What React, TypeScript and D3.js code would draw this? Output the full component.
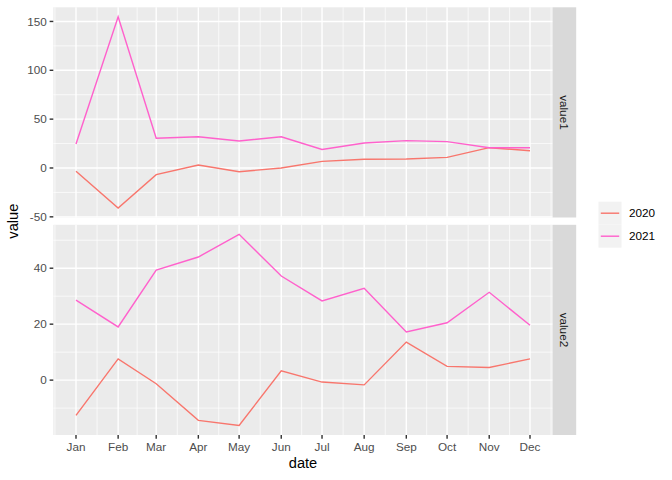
import React from "react";
import * as d3 from "d3";

const months = ["Jan", "Feb", "Mar", "Apr", "May", "Jun", "Jul", "Aug", "Sep", "Oct", "Nov", "Dec"];
const years = ["2020", "2021"];
const colors = ["#F8766D", "#FF61CC"];
const facets = ["value1", "value2"];

const value1_2020 = [-3.4, -40.9, -6.8, 3.0, -3.8, 0.0, 6.8, 8.9, 9.2, 10.9, 20.8, 17.7];
const value1_2021 = [24.5, 154.7, 30.4, 32.0, 27.6, 32.0, 19.0, 25.5, 28.0, 27.0, 20.8, 20.8];
const value2_2020 = [-12.6, 7.6, -1.3, -14.4, -16.2, 3.3, -0.7, -1.7, 13.6, 4.9, 4.5, 7.6];
const value2_2021 = [28.6, 19.0, 39.3, 44.0, 52.1, 37.2, 28.3, 32.8, 17.2, 20.5, 31.4, 19.6];

const value1Ticks = [-50, 0, 50, 100, 150];
const value1Minor = [-25, 25, 75, 125];
const value2Ticks = [0, 20, 40];
const value2Minor = [-10, 10, 30, 50];

const seriesByFacet = [
  [value1_2020, value1_2021],
  [value2_2020, value2_2021],
];
const ticksByFacet = [value1Ticks, value2Ticks];
const minorByFacet = [value1Minor, value2Minor];

const dates = months.map((_, i) => new Date(Date.UTC(2021, i, 1)));

const FONT = "'Liberation Sans', Arial, Helvetica, sans-serif";
const W = 672;
const H = 480;
const panelL = 53.3;
const panelR = 552.7;
const stripW = 23.5;
const panels = [
  { top: 7.3, bottom: 217.5 },
  { top: 224.8, bottom: 435 },
];

export default function App() {
  const t0 = dates[0].getTime();
  const t1 = dates[dates.length - 1].getTime();
  const pad = (t1 - t0) * 0.05;
  const x = d3.scaleUtc().domain([new Date(t0 - pad), new Date(t1 + pad)]).range([panelL, panelR]);

  // minor breaks: midpoints between month starts, including outer ones
  const extMonths = [new Date(Date.UTC(2020, 11, 1)), ...dates, new Date(Date.UTC(2022, 0, 1))];
  const minorX: Date[] = [];
  for (let i = 0; i < extMonths.length - 1; i++) {
    const m = (extMonths[i].getTime() + extMonths[i + 1].getTime()) / 2;
    if (m > t0 - pad && m < t1 + pad) minorX.push(new Date(m));
  }

  const yScales = seriesByFacet.map((ser, fi) => {
    const all = ser.flat();
    const mn = d3.min(all)!;
    const mx = d3.max(all)!;
    const e = (mx - mn) * 0.05;
    return d3.scaleLinear().domain([mn - e, mx + e]).range([panels[fi].bottom, panels[fi].top]);
  });

  return (
    <svg width={W} height={H} style={{ display: "block", position: "absolute", left: 0, top: 0 }} fontFamily={FONT}>
      <rect x={0} y={0} width={W} height={H} fill="#FFFFFF" />
      {facets.map((f, fi) => {
        const y = yScales[fi];
        const p = panels[fi];
        const line = d3
          .line<number>()
          .x((_, i) => x(dates[i]))
          .y((v) => y(v));
        return (
          <g key={f}>
            <rect x={panelL} y={p.top} width={panelR - panelL} height={p.bottom - p.top} fill="#EBEBEB" />
            {minorByFacet[fi].map((v) => (
              <line key={"hm" + v} x1={panelL} x2={panelR} y1={y(v)} y2={y(v)} stroke="#FFFFFF" strokeWidth={0.71} />
            ))}
            {minorX.map((d, i) => (
              <line key={"vm" + i} x1={x(d)} x2={x(d)} y1={p.top} y2={p.bottom} stroke="#FFFFFF" strokeWidth={0.71} />
            ))}
            {ticksByFacet[fi].map((v) => (
              <line key={"hM" + v} x1={panelL} x2={panelR} y1={y(v)} y2={y(v)} stroke="#FFFFFF" strokeWidth={1.42} />
            ))}
            {dates.map((d, i) => (
              <line key={"vM" + i} x1={x(d)} x2={x(d)} y1={p.top} y2={p.bottom} stroke="#FFFFFF" strokeWidth={1.42} />
            ))}
            {seriesByFacet[fi].map((s, si) => (
              <path key={"s" + si} d={line(s) || ""} fill="none" stroke={colors[si]} strokeWidth={1.42} />
            ))}
            {/* y axis */}
            {ticksByFacet[fi].map((v) => (
              <g key={"yt" + v}>
                <line x1={panelL - 3.67} x2={panelL} y1={y(v)} y2={y(v)} stroke="#333333" strokeWidth={1.42} />
                <text x={panelL - 3.67 - 2.93} y={y(v) + 4.2} textAnchor="end" fontSize={11.73} fill="#4D4D4D">
                  {v}
                </text>
              </g>
            ))}
            {/* strip */}
            <rect x={panelR} y={p.top} width={stripW} height={p.bottom - p.top} fill="#D9D9D9" />
            <text
              transform={`translate(${panelR + stripW / 2},${(p.top + p.bottom) / 2}) rotate(90)`}
              textAnchor="middle"
              dominantBaseline="central"
              fontSize={11.73}
              fill="#1A1A1A"
            >
              {f}
            </text>
          </g>
        );
      })}
      {/* x axis */}
      {dates.map((d, i) => (
        <g key={"xt" + i}>
          <line x1={x(d)} x2={x(d)} y1={435} y2={435 + 3.67} stroke="#333333" strokeWidth={1.42} />
          <text x={x(d)} y={450.9} textAnchor="middle" fontSize={11.73} fill="#4D4D4D">
            {months[i]}
          </text>
        </g>
      ))}
      <text x={(panelL + panelR) / 2} y={468} textAnchor="middle" fontSize={14.67} fill="#000000">
        date
      </text>
      <text transform={`translate(17.5,${(7.3 + 435) / 2}) rotate(-90)`} textAnchor="middle" fontSize={14.67} fill="#000000">
        value
      </text>
      {/* legend */}
      {years.map((yr, i) => {
        const ky = 201.7 + i * 23;
        return (
          <g key={yr}>
            <rect x={598.5} y={ky} width={23} height={23} fill="#F2F2F2" />
            <line x1={600.8} x2={619.2} y1={ky + 11.5} y2={ky + 11.5} stroke={colors[i]} strokeWidth={1.42} />
            <text x={629} y={ky + 11.5 + 4.2} fontSize={11.73} fill="#000000">
              {yr}
            </text>
          </g>
        );
      })}
    </svg>
  );
}
